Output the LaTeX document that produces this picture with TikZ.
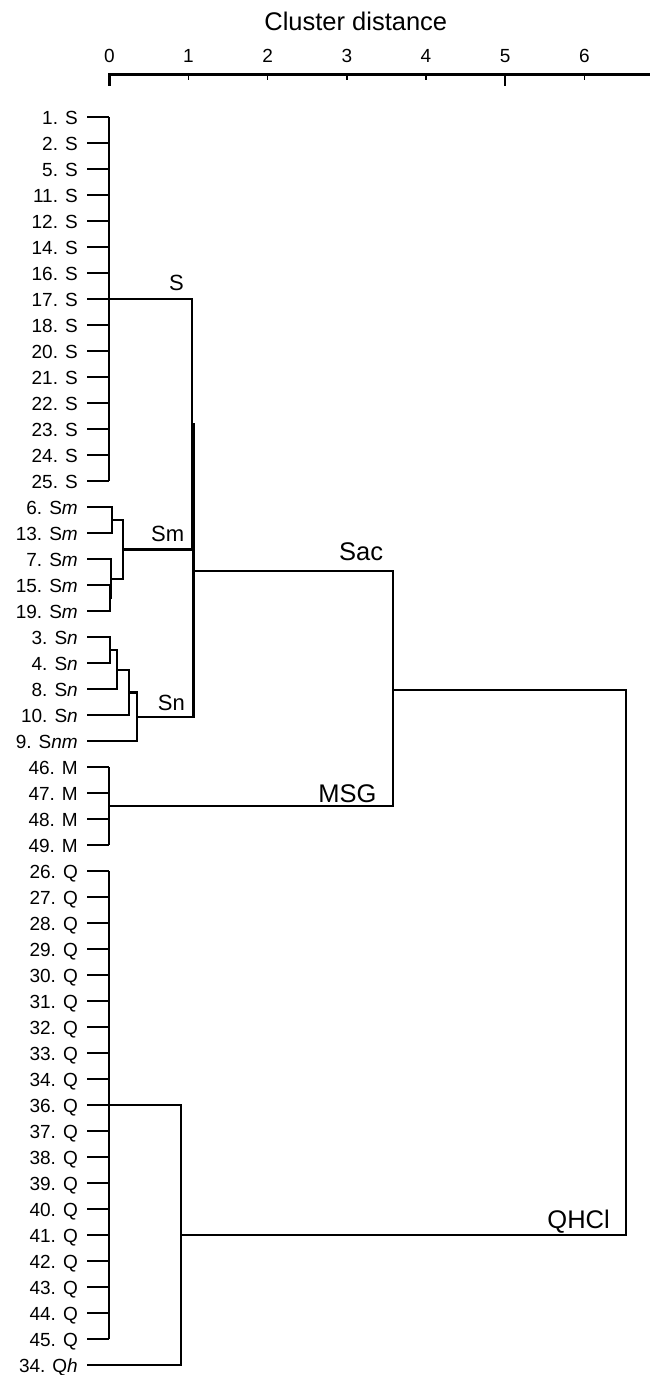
\documentclass[tikz,border=0pt]{standalone}
\usepackage{fontspec}
\setmainfont{Liberation Sans}
\newcommand\Yr[1]{117.3+26.0*#1}
\begin{document}
\begin{tikzpicture}[x=1pt,y=-1pt,
  tree/.style={line width=2.3pt, line join=miter},
  axisline/.style={line width=2.4pt},
  ticklab/.style={anchor=base, inner sep=0pt, font=\fontsize{19}{22}\selectfont},
  rowlab/.style={anchor=base east, inner sep=0pt, font=\fontsize{19}{21}\selectfont},
  grplab/.style={anchor=base east, inner sep=0pt, font=\fontsize{22}{25}\selectfont},
  biglab/.style={anchor=base east, inner sep=0pt, font=\fontsize{25.5}{29}\selectfont},
  titlelab/.style={anchor=base, inner sep=0pt, font=\fontsize{25.5}{29}\selectfont}]
\fill[white] (0,0) rectangle (654,1375);
\useasboundingbox (0,0) rectangle (654,1375);

% axis
\node[titlelab] (title) at (355.8,30.7) {Cluster distance};
\coordinate (ax0) at (109.3,74.7);
\coordinate (axend) at (650,74.7);
\coordinate (tk0) at (109.3,86);
\draw[axisline] (tk0) -- (ax0) -- (axend);
\foreach \k in {0,...,6}{
  \coordinate (tt\k) at ({109.3+79.17*\k},74.7);
  \node[ticklab] (tl\k) at ({109.3+79.17*\k},62.7) {\k};
}
\foreach \k in {1,2,3,4,6}{
  \coordinate (tb\k) at ({109.3+79.17*\k},80.5);
  \draw[line width=1.5pt] (tt\k) -- (tb\k);
}
\coordinate (tb5) at ({109.3+79.17*5},86);
\draw[line width=1.5pt] (tt5) -- (tb5);

% leaves
\foreach \lab [count=\i from 0] in {1. S,2. S,5. S,11. S,12. S,14. S,16. S,17. S,18. S,20. S,21. S,22. S,23. S,24. S,25. S,
  6. S\textit{m},13. S\textit{m},7. S\textit{m},15. S\textit{m},19. S\textit{m},
  3. S\textit{n},4. S\textit{n},8. S\textit{n},10. S\textit{n},9. S\textit{nm},
  46. M,47. M,48. M,49. M,
  26. Q,27. Q,28. Q,29. Q,30. Q,31. Q,32. Q,33. Q,34. Q,36. Q,37. Q,38. Q,39. Q,40. Q,41. Q,42. Q,43. Q,44. Q,45. Q,34. Q\textit{h}}{
  \coordinate (L\i) at (109.3,{\Yr{\i}});
  \coordinate (s\i) at (87.3,{\Yr{\i}});
  \node[rowlab] (t\i) at (78,{\Yr{\i}+6.8}) {\lab};
  \draw[tree] (s\i) -- (L\i);
}

% S group
\draw[tree] (L0) -- (L14);
% Sm subtree
\coordinate (a) at (112.3,{\Yr{15.5}});
\coordinate (b) at (110.3,{\Yr{18.5}});
\coordinate (c) at (111.3,{(\Yr{17}+\Yr{18.5})/2});
\coordinate (d) at (122.7,{(\Yr{15.5}+(\Yr{17}+\Yr{18.5})/2)/2});
\draw[tree] (L15) -| (a) |- (L16);
\draw[tree] (L18) -| (b) |- (L19);
\draw[tree] (L17) -| (c) |- (b);
\draw[tree] (a) -| (d) |- (c);
% Sn subtree
\coordinate (e) at (109.8,{\Yr{20.5}});
\coordinate (f) at (116.7,{(\Yr{20.5}+\Yr{22})/2});
\coordinate (g) at (129.3,{((\Yr{20.5}+\Yr{22})/2+\Yr{23})/2});
\coordinate (h) at (136.7,{(((\Yr{20.5}+\Yr{22})/2+\Yr{23})/2+\Yr{24})/2});
\draw[tree] (L20) -| (e) |- (L21);
\draw[tree] (e) -| (f) |- (L22);
\draw[tree] (f) -| (g) |- (L23);
\draw[tree] (g) -| (h) |- (L24);
% S + Sm + Sn
\coordinate (J1) at (191.7,{(\Yr{7}+(\Yr{15.5}+(\Yr{17}+\Yr{18.5})/2)/2)/2});
\coordinate (J2) at (193.4,{((\Yr{7}+(\Yr{15.5}+(\Yr{17}+\Yr{18.5})/2)/2)/2+(((\Yr{20.5}+\Yr{22})/2+\Yr{23})/2+\Yr{24})/2)/2});
\draw[tree] (L7) -| (J1) |- (d);
\draw[tree] (J1) -| (J2) |- (h);
% M group
\draw[tree] (L25) -- (L28);
\coordinate (M) at (109.3,{\Yr{26.5}});
% Sac
\coordinate (Sac) at (392.7,{(573+\Yr{26.5})/2});
\draw[tree] (J2) -| (Sac) |- (M);
% Q group
\draw[tree] (L29) -- (L47);
\coordinate (QQ) at (180.7,{(\Yr{38}+\Yr{48})/2});
\draw[tree] (L38) -| (QQ) |- (L48);
% root
\coordinate (Root) at (625.7,{((573+\Yr{26.5})/2+(\Yr{38}+\Yr{48})/2)/2});
\draw[tree] (Sac) -| (Root) |- (QQ);

% group labels
\node[grplab] (lS) at (184,290) {S};
\node[grplab] (lSm) at (184.3,541.7) {Sm};
\node[grplab] (lSn) at (185,710.7) {Sn};
\node[biglab] (lSac) at (383.3,560) {Sac};
\node[biglab] (lMSG) at (376.7,802.3) {MSG};
\node[biglab] (lQ) at (610,1228.3) {QHCl};
\end{tikzpicture}
\end{document}
